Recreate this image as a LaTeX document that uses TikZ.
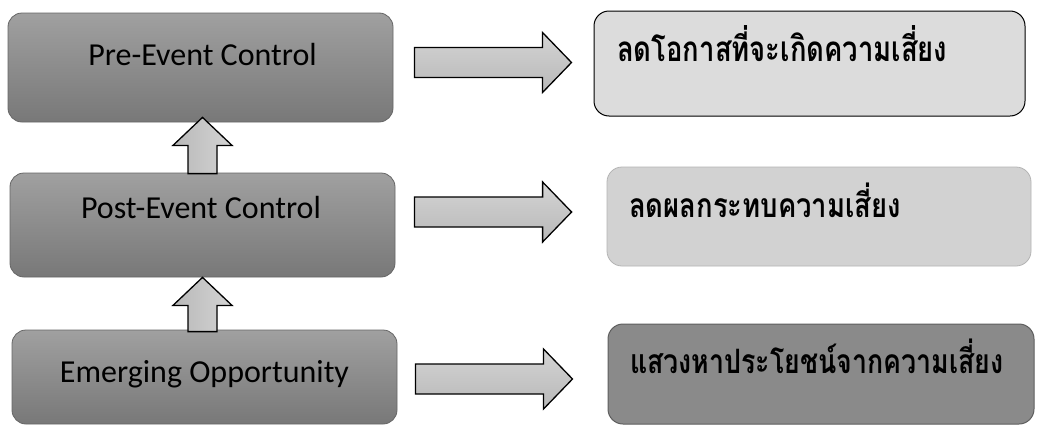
\documentclass[tikz,border=0pt]{standalone}
\usepackage{fontspec}
\setmainfont{Carlito}
\newfontfamily\thaifont[Script=Thai]{Loma}
\usetikzlibrary{calc}
\definecolor{lboxtop}{HTML}{A0A0A0}
\definecolor{lboxbot}{HTML}{787878}
\definecolor{lboxedge}{HTML}{666666}
\definecolor{rone}{HTML}{DCDCDC}
\definecolor{rtwo}{HTML}{D2D2D2}
\definecolor{rtwoedge}{HTML}{B4B4B4}
\definecolor{rthree}{HTML}{8A8A8A}
\definecolor{rthreeedge}{HTML}{5E5E5E}
\definecolor{arrowtop}{HTML}{D4D4D4}
\definecolor{arrowbot}{HTML}{B8B8B8}
\tikzset{
  lbox/.style={rounded corners=14pt, draw=lboxedge, line width=0.8pt, top color=lboxtop, bottom color=lboxbot, inner sep=0pt},
  ltext/.style={anchor=base, font=\fontsize{32}{36}\selectfont, text=black, inner sep=0pt},
  rtext/.style={anchor=base west, font=\thaifont\bfseries\fontsize{28}{32}\selectfont, text=black, inner sep=0pt},
  rboxone/.style={rounded corners=15pt, draw=black, line width=1pt, fill=rone, inner sep=0pt},
  rboxtwo/.style={rounded corners=15pt, draw=rtwoedge, line width=0.8pt, fill=rtwo, inner sep=0pt},
  rboxthree/.style={rounded corners=15pt, draw=rthreeedge, line width=1pt, fill=rthree, inner sep=0pt},
  rarrow/.style={draw=black, line width=1.3pt, top color=arrowtop, bottom color=arrowbot, line join=miter,
    to path={let \p1=(\tikztostart), \p2=(\tikztotarget) in
      (\x1,\y1+15pt) -- (\x2-29pt,\y1+15pt) -- (\x2-29pt,\y1+30pt) -- (\x2,\y1)
      -- (\x2-29pt,\y1-30pt) -- (\x2-29pt,\y1-15pt) -- (\x1,\y1-15pt) -- cycle}},
  uarrow/.style={draw=black, line width=1.3pt, left color=arrowbot, right color=arrowtop, line join=miter,
    to path={let \p1=(\tikztostart), \p2=(\tikztotarget) in
      (\x1-14.5pt,\y1) -- (\x1-14.5pt,\y2-28pt) -- (\x1-29.5pt,\y2-28pt) -- (\x1,\y2)
      -- (\x1+29.5pt,\y2-28pt) -- (\x1+14.5pt,\y2-28pt) -- (\x1+14.5pt,\y1) -- cycle}}
}
\begin{document}
\begin{tikzpicture}[x=1pt,y=-1pt]
\useasboundingbox[fill=white] (0,0) rectangle (1038,434);
% left boxes
\node[lbox, minimum width=385pt, minimum height=109pt] (b1) at (200.5,67.5) {};
\node[lbox, minimum width=385pt, minimum height=104pt] (b2) at (202.5,225) {};
\node[lbox, minimum width=385pt, minimum height=94pt] (b3) at (204.5,377) {};
\node[ltext] (t1) at (202.5,65) {Pre-Event Control};
\node[ltext] (t2) at (201,218) {Post-Event Control};
\node[ltext] (t3) at (204.5,382) {Emerging Opportunity};
% right boxes
\node[rboxone, minimum width=431pt, minimum height=105pt] (r1) at (809.5,63.5) {};
\node[rboxtwo, minimum width=424pt, minimum height=99pt] (r2) at (819,216.5) {};
\node[rboxthree, minimum width=426pt, minimum height=100pt] (r3) at (821,374) {};
\node[rtext] (s1) at (617,61) {\scalebox{0.98}[1.25]{ลดโอกาสที่จะเกิดความเสี่ยง}};
\node[rtext] (s2) at (629,217) {\scalebox{0.98}[1.2]{ลดผลกระทบความเสี่ยง}};
\node[rtext] (s3) at (630,373) {\scalebox{0.955}[1.2]{แสวงหาประโยชน์จากความเสี่ยง}};
% up arrows
\draw[uarrow] ([yshift=-1pt]b2.north) to ([yshift=5pt]b1.south);
\draw[uarrow] ([shift={(-2,2)}]b3.north) to (b2.south);
% right arrows
\draw[rarrow] ([shift={(21,-5)}]b1.east) to ([xshift=-22pt]r1.west);
\draw[rarrow] ([shift={(19,-13)}]b2.east) to ([xshift=-35pt]r2.west);
\draw[rarrow] ([shift={(18,2)}]b3.east) to ([xshift=-35pt]r3.west);
\end{tikzpicture}
\end{document}
